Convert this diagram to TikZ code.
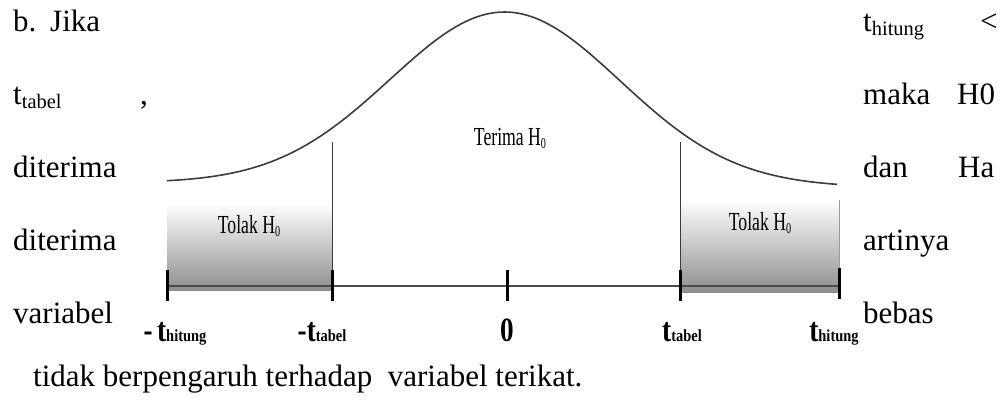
\documentclass[tikz,border=0pt]{standalone}
\usepackage{fontspec}
\setmainfont{Liberation Serif}
\usepackage{graphicx}
\usetikzlibrary{positioning}
\definecolor{curvecolor}{HTML}{3C3C3C}
\definecolor{axiscolor}{HTML}{4A4A4A}
\definecolor{shadecolor}{HTML}{8E8E8E}
\definecolor{edgecolor}{HTML}{9A9A9A}
\newcommand{\lowsub}[2]{\raisebox{-0.15em}{\fontsize{#1}{#1}\selectfont #2}}
\newcommand{\narrowtxt}[1]{\scalebox{0.68}[1]{#1}}
\newcommand{\ticktxt}[2]{\scalebox{0.8}[1]{\bfseries\fontsize{34}{34}\selectfont #1}\scalebox{0.85}[1]{\bfseries\fontsize{17}{17}\selectfont #2}}

\begin{document}
\begin{tikzpicture}[
  x=1pt, y=-1pt,
  body/.style={inner sep=0pt, anchor=base west, font=\fontsize{31}{31}\selectfont},
  region/.style={inner sep=0pt, anchor=base, font=\fontsize{26}{26}\selectfont},
  ticklbl/.style={inner sep=0pt, anchor=base},
  curve/.style={draw=curvecolor, line width=1.6pt},
  guide/.style={draw=curvecolor, line width=0.8pt},
  axis/.style={draw=axiscolor, line width=1.4pt},
  tickmark/.style={draw=black, line width=3pt},
  reject/.style={top color=white, bottom color=shadecolor},
]
\useasboundingbox (0,0) rectangle (1004,407);

% shaded rejection regions
\fill[reject] (167,203) rectangle (332,290);
\fill[reject] (680,200) rectangle (839,292);
\draw[draw=edgecolor, line width=0.8pt] (839,200) -- (839,292);

% bell curve
\draw[curve] plot[domain=167:837, samples=140]
  (\x, {183+4*(\x-167)/670-173*exp(-((\x-505)/115)*((\x-505)/115)/2)});

% axis and ticks
\coordinate (tA) at (167,286);
\coordinate (tB) at (332,286);
\coordinate (tC) at (507,286);
\coordinate (tD) at (680,286);
\coordinate (tE) at (839,286);
\coordinate (gB) at (332,142);
\coordinate (gD) at (680,142);

\draw[guide] (gB) -- (tB);
\draw[guide] (gD) -- (tD);
\draw[axis] (tA) -- (tE);

\draw[tickmark] (tA) ++(0,-16) -- ++(0,31);
\draw[tickmark] (tB) ++(0,-16) -- ++(0,31);
\draw[tickmark] (tC) ++(0,-16) -- ++(0,31);
\draw[tickmark] (tD) ++(0,-16) -- ++(0,31);
\draw[tickmark] (tE) ++(0,-18) -- ++(0,31);

\node[ticklbl] (lA) at (175,341) {\ticktxt{-\,t}{hitung}};
\node[ticklbl] (lB) at (322,341) {\ticktxt{-t}{tabel}};
\node[ticklbl] (lC) at (507,341) {\ticktxt{0}{}};
\node[ticklbl] (lD) at (682,341) {\ticktxt{t}{tabel}};
\node[ticklbl] (lE) at (834,341) {\ticktxt{t}{hitung}};

% region labels
\node[region] (terima) at (510,145) {\narrowtxt{Terima H\lowsub{15}{0}}};
\node[region] (tolakL) at (249,233) {\narrowtxt{Tolak H\lowsub{15}{0}}};
\node[region] (tolakR) at (760,230) {\narrowtxt{Tolak H\lowsub{15}{0}}};

% surrounding paragraph
\node[body] (b)       at (13,31)   {b.};
\node[body] (jika)    at (50,31)   {Jika};
\node[body] (thit)    at (863,31)  {t\lowsub{20.5}{hitung}};
\node[body] (less)    at (980,31)  {<};
\node[body] (ttab)    at (13,104)  {t\lowsub{20.5}{tabel}};
\node[body] (comma)   at (140,104) {,};
\node[body] (maka)    at (863,104) {maka};
\node[body] (hnol)    at (957,104) {H0};
\node[body] (dit1)    at (13,177)  {diterima};
\node[body] (dan)     at (863,177) {dan};
\node[body] (ha)      at (958,177) {Ha};
\node[body] (dit2)    at (13,250)  {diterima};
\node[body] (artinya) at (863,250) {artinya};
\node[body] (var)     at (13,323)  {variabel};
\node[body] (bebas)   at (863,323) {bebas};
\node[body] (tidak)   at (33,386)  {tidak berpengaruh terhadap\ \ variabel terikat.};
\end{tikzpicture}
\end{document}
